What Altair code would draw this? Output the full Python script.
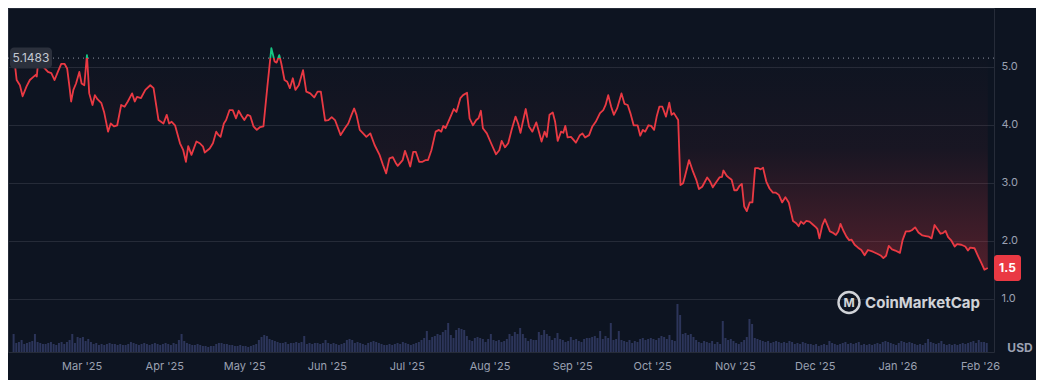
import altair as alt
import pandas as pd

BASELINE = 5.1483
START = pd.Timestamp("2025-02-03 11:00")
VOL_START = pd.Timestamp("2025-02-03 12:00")

# days since START of each vertex of the price line
day_offset = [
    0.2, 1.19, 2.41, 3.42, 4.90, 6.13, 7.35, 8.35, 8.72, 9.21, 10.95, 12.92, 14.18, 15.41, 16.63,
    17.90, 19.12, 20.12, 20.98, 21.61, 22.46, 23.46, 24.69, 25.54, 26.55, 27.55, 28.40, 29.63, 30.52,
    31.48, 32.97, 33.97, 35.46, 36.46, 37.68, 38.91, 40.39, 41.66, 42.88, 44.48, 45.48, 46.33, 47.82,
    49.45, 51.31, 52.53, 54.39, 56.25, 57.47, 58.36, 59.33, 60.59, 62.45, 63.67, 64.68, 65.53, 66.75,
    68.61, 69.87, 71.10,
    71.73, 73.59, 74.81, 76.04, 76.93, 77.67, 78.90, 79.75, 81.01, 82.24, 83.46, 84.46, 85.58, 86.58,
    87.81, 88.81, 90.03, 91.26, 92.52, 93.75, 95.23, 96.72, 97.94, 98.68, 99.69, 100.43, 101.65,
    102.66, 103.66, 104.77, 105.74, 107.00, 108.60, 109.82, 111.31, 112.79, 114.05, 115.28, 116.88,
    118.14, 119.36, 120.59, 122.70, 124.30, 125.56, 126.79, 127.79, 128.65, 129.87, 131.13, 132.36,
    133.84, 135.44, 137.30, 138.56, 139.78, 141.01, 142.27, 143.50,
    144.13, 145.98, 146.84, 147.84, 148.81, 149.92, 150.92, 152.15, 153.41, 154.64, 155.49, 156.75,
    158.35, 159.57, 160.46, 161.21, 162.06, 163.66, 165.14, 166.14, 167.63, 168.63, 170.12, 171.08,
    172.34, 173.57, 174.42, 175.31, 176.06, 177.54, 179.14, 181.00, 182.22, 183.11, 184.34, 185.56,
    186.82, 188.31, 189.27, 190.16, 190.91, 192.13, 193.36, 194.62, 196.10, 197.07, 198.07, 199.19,
    200.04, 201.04, 202.27, 203.16, 204.12, 205.39, 206.24, 206.98, 207.84, 209.10, 210.96, 212.44,
    213.41, 214.41, 215.90,
    217.13, 218.39, 219.99, 221.21, 222.10, 223.07, 224.18, 225.18, 226.41, 228.04, 229.16, 230.38,
    231.38, 232.61, 234.09, 235.09, 236.06, 236.95, 238.17, 239.17, 240.29, 241.25, 242.25, 243.37,
    244.74, 245.97, 246.82, 247.71, 249.31, 250.16, 251.16, 251.80, 253.39, 254.88, 256.10, 257.10,
    258.33, 260.19, 261.30, 262.30, 263.31, 264.79, 265.76, 266.28, 267.50, 268.51, 269.36, 270.36,
    271.33, 272.22, 273.18, 274.08, 275.04, 276.15, 277.16, 278.16, 279.38, 280.24, 281.13, 282.36,
    283.58, 284.85, 285.81, 287.07,
    288.30, 289.52, 290.78, 292.38, 293.60, 294.49, 295.35, 296.35, 297.32, 298.58, 299.80, 301.03,
    301.55, 302.29, 303.40, 304.37, 305.26, 306.23, 307.23, 308.46, 309.35, 310.20, 311.20, 312.43,
    313.43, 314.29, 315.51, 316.78, 318.00, 319.23, 320.49, 322.35, 324.20, 325.43, 326.28, 327.29,
    328.29, 329.52, 330.74, 332.49, 333.49, 334.71, 335.94, 336.94, 338.17, 339.43, 340.92, 342.14,
    343.37, 344.37, 345.48, 346.86, 347.71, 348.57, 349.57, 350.57, 351.80, 353.02, 353.92, 355.51,
    357.00, 358.00, 358.85, 360.45, 361.93, 363.19, 364.16, 365.43,
]

# price in USD at each vertex
price = [
    5.17, 4.77, 4.68, 4.49, 4.66, 4.77, 4.82, 4.86, 4.83, 5.06, 5.01, 4.91, 4.89, 4.77, 4.91,
    5.05, 5.05, 4.97, 4.66, 4.40, 4.60, 4.71, 4.91, 4.71, 4.68, 5.20, 4.54, 4.34, 4.51,
    4.44, 4.37, 4.22, 3.88, 4.02, 3.97, 3.99, 4.34, 4.31, 4.40, 4.54, 4.40, 4.48, 4.46,
    4.60, 4.68, 4.63, 4.08, 4.02, 4.17, 4.02, 4.05, 3.99, 3.68, 3.56, 3.36, 3.63, 3.48,
    3.71, 3.68, 3.62,
    3.52, 3.59, 3.68, 3.88, 3.82, 3.79, 4.02, 4.08, 4.25, 4.25, 4.11, 4.24, 4.15, 4.08,
    4.17, 4.15, 3.97, 3.91, 3.96, 3.97, 4.66, 5.32, 5.09, 5.07, 5.20, 5.06, 4.77,
    4.74, 4.63, 4.80, 4.60, 4.68, 4.94, 4.57, 4.54, 4.47, 4.57, 4.57, 4.07,
    4.08, 4.13, 4.08, 3.82, 3.94, 4.02, 4.17, 4.28, 4.17, 3.91, 3.85, 3.79,
    3.85, 3.65, 3.48, 3.31, 3.16, 3.42, 3.44, 3.33,
    3.29, 3.39, 3.55, 3.42, 3.28, 3.53, 3.53, 3.36, 3.36, 3.39, 3.39, 3.56,
    3.88, 3.91, 3.88, 3.98, 3.94, 4.11, 4.27, 4.22, 4.46, 4.51, 4.55, 4.11,
    3.99, 4.08, 4.11, 4.24, 3.94, 3.85, 3.68, 3.49, 3.56, 3.72, 3.61, 3.68,
    3.91, 4.14, 4.02, 3.86, 4.02, 4.27, 3.97, 3.88, 4.04, 3.88, 3.71, 3.88,
    3.79, 4.17, 4.21, 4.05, 3.72, 3.88, 3.86, 3.98, 3.78, 3.79, 3.69, 3.82,
    3.85, 3.78, 3.82,
    3.97, 4.05, 4.20, 4.25, 4.34, 4.51, 4.31, 4.17, 4.28, 4.54, 4.36, 4.34,
    4.20, 3.99, 3.99, 3.81, 3.91, 3.88, 3.99, 3.98, 3.91, 4.14, 4.31, 4.31,
    4.14, 4.38, 4.17, 4.20, 4.08, 2.96, 2.99, 3.10, 3.39, 3.19, 3.05, 2.89,
    2.93, 3.09, 3.02, 2.92, 2.99, 3.09, 3.10, 3.21, 3.12, 3.08, 3.05, 2.87,
    2.87, 2.94, 2.98, 2.59, 2.51, 2.66, 2.66, 3.25, 3.25, 3.23, 3.26, 3.02,
    2.90, 2.83, 2.83, 2.79,
    2.66, 2.75, 2.66, 2.34, 2.30, 2.25, 2.33, 2.29, 2.34, 2.33, 2.28, 2.23,
    2.20, 2.04, 2.27, 2.37, 2.27, 2.16, 2.14, 2.10, 2.16, 2.29, 2.18, 2.07,
    2.01, 2.02, 1.93, 1.88, 1.84, 1.75, 1.84, 1.81, 1.77, 1.74, 1.70, 1.74,
    1.91, 1.85, 1.83, 1.79, 2.01, 2.16, 2.16, 2.18, 2.23, 2.14, 2.09, 2.08,
    2.07, 2.04, 2.27, 2.18, 2.12, 2.13, 2.17, 2.06, 2.00, 1.90, 1.94, 1.93,
    1.90, 1.83, 1.88, 1.87, 1.72, 1.60, 1.50, 1.53,
]

# daily traded volume (M USD), one per day from VOL_START
volume = [
    18, 9, 10, 12, 8, 9, 10, 11, 18, 10,
    9, 8, 8, 9, 10, 8, 7, 9, 10, 8,
    10, 12, 18, 9, 15, 14, 15, 11, 13, 10,
    8, 9, 7, 8, 7, 8, 9, 8, 8, 7,
    8, 7, 7, 8, 10, 9, 8, 7, 8, 9,
    8, 7, 8, 9, 8, 7, 8, 9, 8, 7,
    9, 8, 12, 18, 11, 9, 8, 7, 7, 8,
    7, 6, 6, 5, 6, 6, 8, 9, 9, 8,
    8, 7, 7, 6, 6, 7, 6, 6, 5, 6,
    7, 8, 12, 15, 17, 16, 13, 12, 11, 10,
    9, 9, 10, 8, 9, 9, 10, 9, 10, 16,
    8, 9, 8, 9, 9, 8, 9, 12, 9, 8,
    9, 8, 7, 8, 9, 12, 13, 12, 9, 10,
    9, 8, 7, 9, 10, 11, 10, 9, 8, 7,
    7, 8, 7, 8, 9, 8, 10, 9, 8, 7,
    8, 9, 10, 12, 14, 21, 12, 15, 16, 18,
    17, 20, 22, 29, 17, 14, 22, 24, 23, 22,
    16, 12, 11, 14, 15, 14, 13, 10, 13, 18,
    12, 11, 12, 10, 11, 13, 18, 16, 20, 18,
    24, 18, 14, 11, 13, 12, 12, 20, 17, 22,
    18, 16, 12, 14, 19, 13, 12, 10, 11, 15,
    12, 13, 11, 10, 13, 14, 14, 15, 16, 14,
    21, 13, 16, 14, 29, 12, 13, 21, 12, 11,
    10, 12, 9, 11, 10, 13, 14, 12, 13, 14,
    13, 12, 14, 16, 15, 13, 17, 12, 11, 48,
    37, 18, 19, 17, 18, 15, 12, 10, 9, 11,
    10, 9, 11, 8, 10, 8, 31, 14, 12, 13,
    11, 9, 8, 10, 12, 15, 33, 28, 14, 13,
    12, 11, 10, 11, 9, 10, 11, 10, 9, 10,
    9, 11, 10, 8, 9, 8, 10, 9, 8, 8,
    7, 8, 6, 7, 8, 7, 11, 9, 8, 7,
    8, 9, 10, 8, 9, 8, 9, 10, 7, 8,
    7, 8, 7, 8, 9, 8, 10, 11, 10, 9,
    8, 7, 9, 11, 10, 9, 10, 9, 8, 7,
    8, 7, 9, 13, 10, 9, 8, 9, 11, 8,
    7, 8, 7, 8, 7, 8, 9, 8, 9, 10,
    11, 9, 12, 10, 10, 9,
]

assert len(day_offset) == len(price)

BG = "#0d1421"
RED = "#ea3943"
GREEN = "#16c784"
GRID = "#252b38"
LABEL = "#9ba1b2"
FONT = "Inter"

df = pd.DataFrame({
    "date": START + pd.to_timedelta(day_offset, unit="D"),
    "price": price,
})
df["base"] = BASELINE
vdf = pd.DataFrame({
    "date": VOL_START + pd.to_timedelta(list(range(len(volume))), unit="D"),
    "volume": volume,
})
base_df = pd.DataFrame({"base": [BASELINE], "label": [f"{BASELINE:.4f}"]})
last_df = pd.DataFrame({"price": [price[-1]], "label": [f"{price[-1]:.1f}"]})

xscale = alt.Scale(domain=[
    alt.DateTime(year=2025, month=2, date=3, hours=6, minutes=30),
    alt.DateTime(year=2026, month=2, date=4, hours=8, minutes=30),
])
yscale = alt.Scale(domain=[0.081, 6.012], nice=False, zero=False)

xaxis = alt.Axis(format="%b '%y", tickCount={"interval": "month", "step": 1}, title=None,
                 ticks=False, domain=False, grid=False, labelColor=LABEL, labelFont=FONT,
                 labelFontSize=11, labelPadding=8, labelFlush=False, labelOverlap=False)
yaxis = alt.Axis(orient="right", values=[1, 2, 3, 4, 5], format=".1f", title=None, ticks=False,
                 domain=False, grid=True, gridColor=GRID, gridWidth=1, labelColor=LABEL,
                 labelFont=FONT, labelFontSize=11, labelPadding=7)

X = alt.X("date:T", scale=xscale, axis=xaxis)

vol = alt.Chart(vdf).mark_bar(width=2, color="#2c355a").encode(
    x=X,
    y=alt.Y("volume:Q", scale=alt.Scale(domain=[0, 344]), axis=None),
)

area = alt.Chart(df).mark_area(
    color=alt.Gradient(
        gradient="linear",
        stops=[alt.GradientStop(color="rgba(234,57,67,0.0)", offset=0),
               alt.GradientStop(color="rgba(234,57,67,0.05)", offset=0.45),
               alt.GradientStop(color="rgba(234,57,67,0.30)", offset=1)],
        x1=1, x2=1, y1=0, y2=1,
    )
).encode(x=X, y=alt.Y("price:Q", scale=yscale, axis=yaxis), y2="base:Q")

pmax, pmin = max(price), min(price)
f = (pmax - BASELINE) / (pmax - pmin)
line = alt.Chart(df).mark_line(
    strokeWidth=1.8,
    strokeJoin="round",
    stroke=alt.Gradient(
        gradient="linear",
        stops=[alt.GradientStop(color=GREEN, offset=0),
               alt.GradientStop(color=GREEN, offset=f),
               alt.GradientStop(color=RED, offset=f),
               alt.GradientStop(color=RED, offset=1)],
        x1=0, x2=0, y1=0, y2=1,
    ),
).encode(x=X, y=alt.Y("price:Q", scale=yscale, axis=None))

base_rule = alt.Chart(base_df).mark_rule(color="#8f95a3", strokeDash=[1, 4], strokeWidth=1).encode(
    y=alt.Y("base:Q", scale=yscale, axis=None)
)
base_box = alt.Chart(base_df).mark_rect(width=42, height=21, cornerRadius=4, color="#2b303c").encode(
    x=alt.value(23), y=alt.Y("base:Q", scale=yscale, axis=None)
)
base_text = alt.Chart(base_df).mark_text(font=FONT, fontSize=12, color="#c3c8d2").encode(
    x=alt.value(23), y=alt.Y("base:Q", scale=yscale, axis=None), text="label:N"
)

last_box = alt.Chart(last_df).mark_rect(width=27, height=26, cornerRadius=3, color=RED).encode(
    x=alt.value(999.5), y=alt.Y("price:Q", scale=yscale, axis=None)
)
last_text = alt.Chart(last_df).mark_text(font=FONT, fontSize=12, fontWeight="bold", color="white").encode(
    x=alt.value(999.5), y=alt.Y("price:Q", scale=yscale, axis=None), text="label:N"
)

usd = alt.Chart(pd.DataFrame({"t": ["USD"]})).mark_text(
    font=FONT, fontSize=12, fontWeight="bold", color=LABEL
).encode(x=alt.value(1012), y=alt.value(340), text="t:N")

logo_ring = alt.Chart(pd.DataFrame({"t": [""]})).mark_point(
    shape="circle", filled=False, size=441, strokeWidth=2.4, color="#e6e8ec", opacity=0.9
).encode(x=alt.value(841), y=alt.value(294.5))
logo_m = alt.Chart(pd.DataFrame({"t": ["M"]})).mark_text(
    font=FONT, fontSize=12, fontWeight="bold", color="#e6e8ec", opacity=0.9
).encode(x=alt.value(841), y=alt.value(295), text="t:N")
brand = alt.Chart(pd.DataFrame({"t": ["CoinMarketCap"]})).mark_text(
    font=FONT, fontSize=15, fontWeight="bold", color="#e6e8ec", opacity=0.9
).encode(x=alt.value(914.5), y=alt.value(295), text="t:N")

chart = alt.layer(
    vol, area, base_rule, line, base_box, base_text, last_box, last_text, usd, logo_ring, logo_m, brand
).resolve_scale(y="independent").properties(
    width=986, height=344,
    autosize=alt.AutoSizeParams(type="none"),
    padding={"left": 0, "top": 0, "right": 42, "bottom": 28},
    background=BG,
).configure_view(stroke="#262c39", strokeWidth=1)

chart.save("out.html", embed_options={"renderer": "svg", "actions": False})
